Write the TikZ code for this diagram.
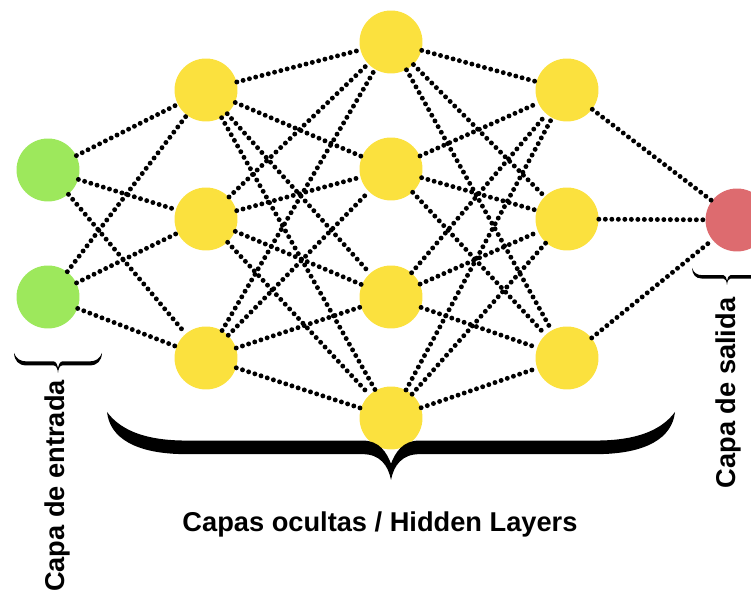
\documentclass[tikz,border=0pt]{standalone}
\usepackage{fontspec}
\setmainfont{Liberation Sans}
\usetikzlibrary{positioning}
\definecolor{redVerde}{HTML}{9DE85C}
\definecolor{redAmarillo}{HTML}{FBE13E}
\definecolor{redRojo}{HTML}{DD6B6F}
\tikzset{
  neurona/.style={circle, inner sep=0pt, minimum size=1.26cm, fill=#1},
  conexion/.style={line width=2.8pt, dash pattern=on 0pt off 3.7pt, line cap=round},
  etiqueta/.style={font=\bfseries\fontsize{15.5}{18}\selectfont, inner sep=0pt},
  pics/llave/.style={code={
    \fill (-1,0) .. controls (-0.99,0.38) and (-0.9,0.62) .. (-0.72,0.62) -- (-0.1,0.62)
      .. controls (-0.04,0.62) and (-0.01,0.78) .. (0,1)
      .. controls (0.01,0.78) and (0.04,0.62) .. (0.1,0.62) -- (0.72,0.62)
      .. controls (0.9,0.62) and (0.99,0.38) .. (1,0)
      .. controls (0.95,0.28) and (0.86,0.42) .. (0.72,0.42) -- (0.1,0.42)
      .. controls (0.04,0.42) and (0.015,0.6) .. (0,0.76)
      .. controls (-0.015,0.6) and (-0.04,0.42) .. (-0.1,0.42) -- (-0.72,0.42)
      .. controls (-0.86,0.42) and (-0.95,0.28) .. (-1,0) -- cycle;
  }},
}
\begin{document}
\begin{tikzpicture}[x=0.02cm, y=-0.02cm]
\useasboundingbox (0,0) rectangle (751,594);
% capa de entrada
\node[neurona=redVerde] (e1) at (48,170) {};
\node[neurona=redVerde] (e2) at (48,297) {};
% capas ocultas
\node[neurona=redAmarillo] (a1) at (206,90) {};
\node[neurona=redAmarillo] (a2) at (206,219) {};
\node[neurona=redAmarillo] (a3) at (206,358) {};
\node[neurona=redAmarillo] (b1) at (391,42) {};
\node[neurona=redAmarillo] (b2) at (391,169) {};
\node[neurona=redAmarillo] (b3) at (391,297) {};
\node[neurona=redAmarillo] (b4) at (391,418) {};
\node[neurona=redAmarillo] (c1) at (567,90) {};
\node[neurona=redAmarillo] (c2) at (567,219) {};
\node[neurona=redAmarillo] (c3) at (567,358) {};
% capa de salida
\node[neurona=redRojo] (s) at (737,220) {};
% conexiones
\foreach \i in {e1,e2}
  \foreach \j in {a1,a2,a3}
    \draw[conexion] (\i) -- (\j);
\foreach \i in {a1,a2,a3}
  \foreach \j in {b1,b2,b3,b4}
    \draw[conexion] (\i) -- (\j);
\foreach \i in {b1,b2,b3,b4}
  \foreach \j in {c1,c2,c3}
    \draw[conexion] (\i) -- (\j);
\foreach \i in {c1,c2,c3}
  \draw[conexion] (\i) -- (s);
% llaves y textos
\pic[xscale=44, yscale=20] at (58,353) {llave};
\pic[xscale=284, yscale=68] at (391,412) {llave};
\pic[xscale=35, yscale=17] at (727,268) {llave};
\node[etiqueta, rotate=90] (entrada) at (57,486) {Capa de entrada};
\node[etiqueta, anchor=base] (ocultas) at (380,532) {Capas ocultas / Hidden Layers};
\node[etiqueta, rotate=90] (salida) at (728,393) {Capa de salida};
\end{tikzpicture}
\end{document}
